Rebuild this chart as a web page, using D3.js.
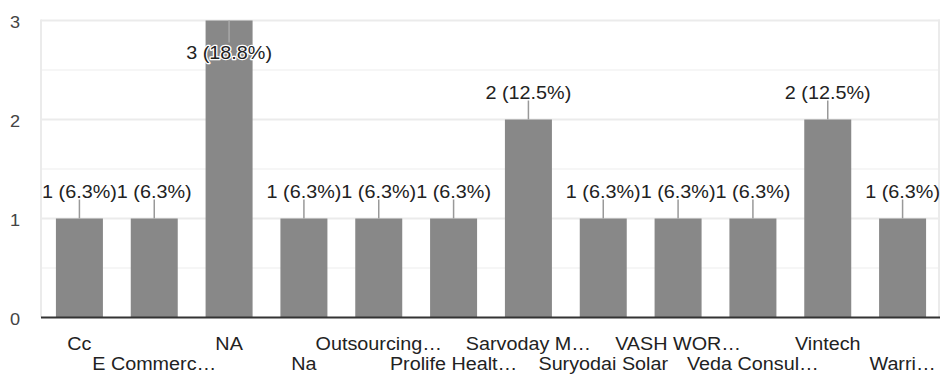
<!DOCTYPE html>
<html>
<head>
<meta charset="utf-8">
<script src="https://cdn.jsdelivr.net/npm/d3@7"></script>
<style>
  html, body { margin: 0; padding: 0; background: #fff; }
  svg { display: block; }
  text { font-family: "Liberation Sans", Arial, sans-serif; }
</style>
</head>
<body>
<svg id="chart" width="940" height="376"></svg>
<script>
const categories = ["Cc", "E Commerc…", "NA", "Na", "Outsourcing…", "Prolife Healt…",
  "Sarvoday M…", "Suryodai Solar", "VASH WOR…", "Veda Consul…", "Vintech", "Warri…"];
const values = [1, 1, 3, 1, 1, 1, 2, 1, 1, 1, 2, 1];
const valueLabels = ["1 (6.3%)", "1 (6.3%)", "3 (18.8%)", "1 (6.3%)", "1 (6.3%)", "1 (6.3%)",
  "2 (12.5%)", "1 (6.3%)", "1 (6.3%)", "1 (6.3%)", "2 (12.5%)", "1 (6.3%)"];
const majorTicks = [0, 1, 2, 3];
const minorTicks = [0.5, 1.5, 2.5];

const svg = d3.select("#chart");
const plotL = 42, plotR = 940, plotT = 20.5, plotB = 317.5;

const x = d3.scaleBand().domain(categories).range([plotL, plotR]).paddingInner(0.372).paddingOuter(0.186);
const y = d3.scaleLinear().domain([0, 3]).range([plotB, plotT]);

function txt(g, s, px, py, anchor, fill, fs, sx) {
  return g.append("text")
    .attr("transform", `translate(${px},${py}) scale(${sx},1)`)
    .attr("text-anchor", anchor)
    .attr("font-size", fs)
    .attr("fill", fill)
    .text(s);
}

// gridlines
svg.append("g").selectAll("line").data(minorTicks).join("line")
  .attr("x1", plotL - 1).attr("x2", plotR).attr("y1", d => y(d)).attr("y2", d => y(d))
  .attr("stroke", "#f3f3f3").attr("stroke-width", 1.5);
svg.append("g").selectAll("line").data(majorTicks.slice(1)).join("line")
  .attr("x1", plotL - 1).attr("x2", plotR).attr("y1", d => y(d)).attr("y2", d => y(d))
  .attr("stroke", "#ebebeb").attr("stroke-width", 2);
// vertical borders
svg.append("line").attr("x1", plotL - 1).attr("x2", plotL - 1).attr("y1", plotT - 1).attr("y2", plotB)
  .attr("stroke", "#ebebeb").attr("stroke-width", 2);
svg.append("line").attr("x1", plotR - 1).attr("x2", plotR - 1).attr("y1", plotT - 1).attr("y2", plotB)
  .attr("stroke", "#ebebeb").attr("stroke-width", 2);

// y tick labels
const yg = svg.append("g");
majorTicks.forEach(t => {
  txt(yg, String(t), 20, y(t) + 7, "end", "#444", 16.5, 1.1);
});

// bars
svg.append("g").selectAll("rect").data(categories).join("rect")
  .attr("x", d => x(d)).attr("width", x.bandwidth())
  .attr("y", (d, i) => y(values[i])).attr("height", (d, i) => y(0) - y(values[i]))
  .attr("fill", "#888888");

// baseline
svg.append("line").attr("x1", plotL - 1).attr("x2", plotR).attr("y1", plotB).attr("y2", plotB)
  .attr("stroke", "#333").attr("stroke-width", 2);

// annotations
const ag = svg.append("g");
categories.forEach((c, i) => {
  const cx = x(c) + x.bandwidth() / 2;
  const ty = y(values[i]);
  if (ty - 24 < 18) {
    ag.append("line").attr("x1", cx).attr("x2", cx).attr("y1", ty).attr("y2", ty + 22)
      .attr("stroke", "#a8a8a8").attr("stroke-width", 1.5);
    txt(ag, valueLabels[i], cx, ty + 38, "middle", "#222", 18, 1.1)
      .attr("stroke", "#fff").attr("stroke-width", 2.5).attr("paint-order", "stroke")
      .attr("stroke-linejoin", "round");
  } else {
    ag.append("line").attr("x1", cx).attr("x2", cx).attr("y1", ty - 19).attr("y2", ty)
      .attr("stroke", "#999").attr("stroke-width", 1.5);
    txt(ag, valueLabels[i], cx, ty - 21, "middle", "#222", 18, 1.1);
  }
});

// x labels, staggered
const xg = svg.append("g");
categories.forEach((c, i) => {
  const cx = x(c) + x.bandwidth() / 2;
  txt(xg, c, cx, i % 2 === 0 ? 350 : 370, "middle", "#222", 17.5, 1.13);
});
</script>
</body>
</html>
